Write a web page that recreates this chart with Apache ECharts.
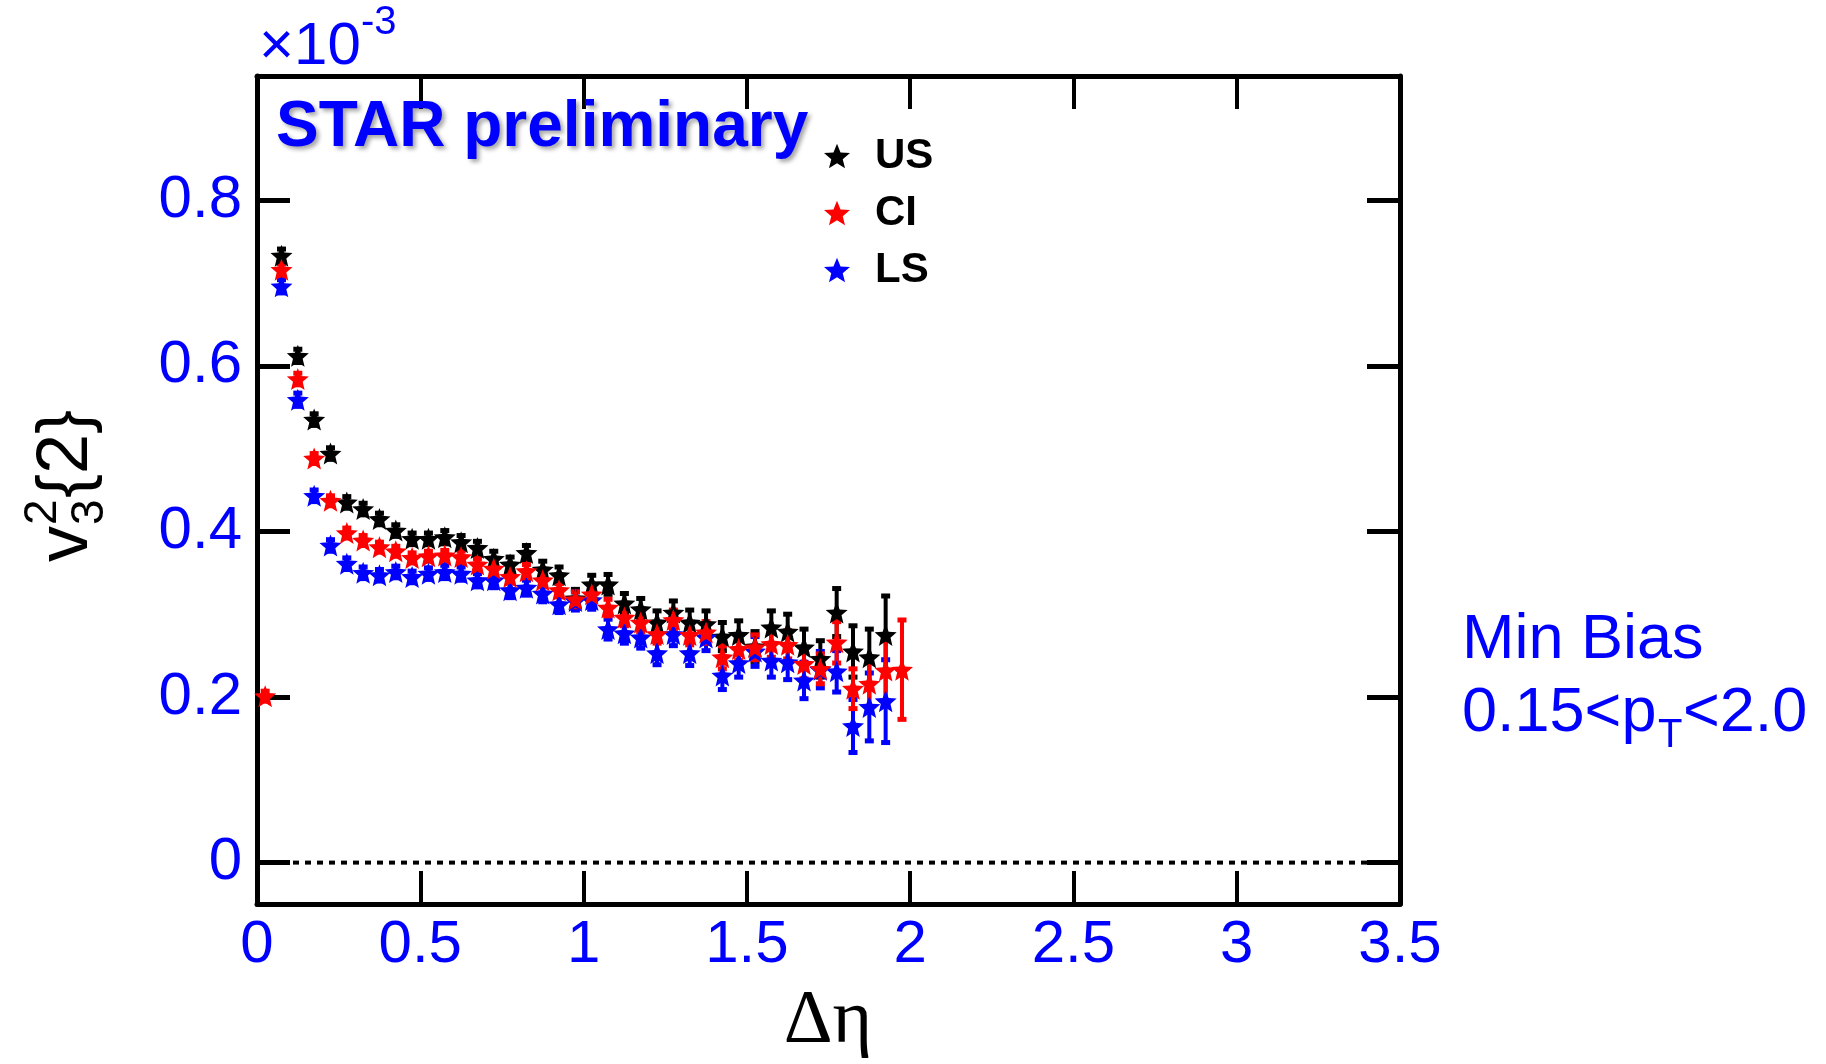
<!DOCTYPE html>
<html>
<head>
<meta charset="utf-8">
<title>v3^2{2} vs delta eta</title>
<script src="https://cdn.jsdelivr.net/npm/echarts@6/dist/echarts.min.js"></script>
<style>
  html, body { margin: 0; padding: 0; background: #fff; }
  #chart { width: 1826px; height: 1064px; }
</style>
</head>
<body>
<div id="chart"></div>
<script>
// Δη bin centres
const usEta = [0.075,0.125,0.175,0.225,0.275,0.325,0.375,0.425,0.475,0.525,0.575,0.625,0.675,0.725,0.775,0.825,0.875,0.925,0.975,
               1.025,1.075,1.125,1.175,1.225,1.275,1.325,1.375,1.425,1.475,1.525,1.575,1.625,1.675,1.725,1.775,1.825,1.875,1.925];
const ciEta = [0.025,0.075,0.125,0.175,0.225,0.275,0.325,0.375,0.425,0.475,0.525,0.575,0.625,0.675,0.725,0.775,0.825,0.875,0.925,0.975,
               1.025,1.075,1.125,1.175,1.225,1.275,1.325,1.375,1.425,1.475,1.525,1.575,1.625,1.675,1.725,1.775,1.825,1.875,1.925,1.975];
const lsEta = [0.075,0.125,0.175,0.225,0.275,0.325,0.375,0.425,0.475,0.525,0.575,0.625,0.675,0.725,0.775,0.825,0.875,0.925,0.975,
               1.025,1.075,1.125,1.175,1.225,1.275,1.325,1.375,1.425,1.475,1.525,1.575,1.625,1.675,1.725,1.775,1.825,1.875,1.925];

// v3^2{2} in units of 1e-3
const usV2 = [0.733,0.612,0.535,0.494,0.435,0.427,0.415,0.401,0.391,0.391,0.393,0.387,0.380,0.367,0.360,0.374,0.354,0.347,0.319,
              0.336,0.336,0.313,0.306,0.290,0.302,0.290,0.288,0.273,0.275,0.261,0.284,0.279,0.260,0.246,0.302,0.255,0.248,0.275];
const ciV2 = [0.201,0.716,0.584,0.488,0.437,0.398,0.389,0.381,0.376,0.368,0.370,0.371,0.369,0.360,0.355,0.345,0.352,0.341,0.329,0.318,
              0.324,0.308,0.296,0.290,0.276,0.293,0.275,0.278,0.248,0.258,0.260,0.264,0.263,0.240,0.234,0.266,0.210,0.216,0.232,0.233];
const lsV2 = [0.696,0.559,0.443,0.383,0.361,0.350,0.347,0.351,0.345,0.349,0.351,0.349,0.341,0.341,0.329,0.332,0.325,0.312,0.316,
              0.317,0.282,0.277,0.272,0.253,0.276,0.253,0.272,0.226,0.241,0.255,0.244,0.242,0.220,0.233,0.231,0.165,0.188,0.195];

// statistical errors (same units)
const usErr = [0.008,0.008,0.007,0.007,0.007,0.007,0.007,0.007,0.007,0.007,0.008,0.008,0.008,0.009,0.009,0.009,0.010,0.010,0.011,
               0.011,0.012,0.012,0.013,0.014,0.014,0.015,0.016,0.017,0.017,0.018,0.020,0.021,0.022,0.022,0.029,0.031,0.034,0.047];
const ciErr = [0.006,0.007,0.007,0.006,0.006,0.006,0.006,0.006,0.006,0.006,0.006,0.006,0.007,0.007,0.007,0.007,0.008,0.008,0.008,0.009,
               0.009,0.010,0.010,0.011,0.011,0.012,0.012,0.013,0.014,0.014,0.015,0.016,0.017,0.018,0.018,0.025,0.024,0.028,0.040,0.060];
const lsErr = [0.008,0.008,0.007,0.007,0.007,0.007,0.007,0.007,0.007,0.007,0.008,0.008,0.008,0.009,0.009,0.009,0.010,0.010,0.011,
               0.011,0.012,0.012,0.013,0.014,0.014,0.015,0.016,0.017,0.017,0.018,0.020,0.021,0.022,0.022,0.025,0.032,0.041,0.050];

const yTicks = [0, 0.2, 0.4, 0.6, 0.8];

const BLUE = '#0000ff';
const SANS = '"Liberation Sans", Arial, Helvetica, sans-serif';
const SERIF = '"Liberation Serif", "Times New Roman", serif';

// five-pointed star marker
function starPath() {
  const pts = [];
  for (let i = 0; i < 10; i++) {
    const a = -Math.PI / 2 + i * Math.PI / 5;
    const r = i % 2 === 0 ? 50 : 22;
    pts.push((50 + r * Math.cos(a)).toFixed(2) + ' ' + (50 + r * Math.sin(a)).toFixed(2));
  }
  return 'path://M' + pts.join(' L') + ' Z';
}
const STAR = starPath();

function points(xs, ys) { return xs.map((x, i) => [x, ys[i]]); }
function withErr(xs, ys, es) { return xs.map((x, i) => [x, ys[i], es[i]]); }

// vertical error bar with small end caps
function errBar(color) {
  return function (params, api) {
    const x = api.value(0), y = api.value(1), e = api.value(2);
    const top = api.coord([x, y + e]);
    const bot = api.coord([x, y - e]);
    const bw = 4, cw = 9, ch = 5;
    return {
      type: 'group',
      children: [
        { type: 'rect', shape: { x: top[0] - bw / 2, y: top[1], width: bw, height: bot[1] - top[1] }, style: { fill: color } },
        { type: 'rect', shape: { x: top[0] - cw / 2, y: top[1] - ch / 2, width: cw, height: ch }, style: { fill: color } },
        { type: 'rect', shape: { x: bot[0] - cw / 2, y: bot[1] - ch / 2, width: cw, height: ch }, style: { fill: color } }
      ]
    };
  };
}

function errSeries(name, color, data) {
  return {
    name: name, type: 'custom', renderItem: errBar(color), data: data,
    encode: { x: 0, y: 1 }, silent: true, z: 3
  };
}
function markSeries(name, color, data) {
  return {
    name: name, type: 'scatter', data: data, symbol: STAR, symbolSize: 22,
    itemStyle: { color: color, opacity: 1 }, z: 4, silent: true
  };
}

const chart = echarts.init(document.getElementById('chart'), null, { renderer: 'canvas' });

const axisBase = {
  type: 'value',
  axisLine: { show: true, onZero: false, lineStyle: { color: '#000', width: 5 } },
  splitLine: { show: false }
};

// y-axis title v_3^2{2}, laid out along a rotated baseline
const titleF = 72, subF = 46;
const yTitle = {
  type: 'group', x: 92, y: 562, rotation: Math.PI / 2,
  children: [
    { type: 'text', x: 0, y: -0.347 * titleF, style: { text: 'v', fontSize: titleF, fontFamily: SANS, fill: '#000', textVerticalAlign: 'middle' } },
    { type: 'text', x: 37, y: -0.46 * titleF - 0.347 * subF, style: { text: '2', fontSize: subF, fontFamily: SANS, fill: '#000', textVerticalAlign: 'middle' } },
    { type: 'text', x: 37, y: 0.2 * titleF - 0.347 * subF, style: { text: '3', fontSize: subF, fontFamily: SANS, fill: '#000', textVerticalAlign: 'middle' } },
    { type: 'text', x: 64, y: -0.347 * titleF, style: { text: '{2}', fontSize: titleF, fontFamily: SANS, fill: '#000', textVerticalAlign: 'middle' } }
  ]
};

const option = {
  animation: false,
  backgroundColor: '#fff',
  grid: { left: 257, right: 426, top: 76, bottom: 160, containLabel: false },
  xAxis: [
    Object.assign({}, axisBase, {
      position: 'bottom', min: 0, max: 3.5, interval: 0.5,
      axisTick: { show: true, inside: true, length: 33, lineStyle: { color: '#000', width: 4 } },
      axisLabel: { show: true, color: BLUE, fontSize: 60, fontFamily: SANS, margin: 11,
                   formatter: v => String(v) }
    }),
    Object.assign({}, axisBase, {
      position: 'top', min: 0, max: 3.5, interval: 0.5,
      axisTick: { show: true, inside: true, length: 33, lineStyle: { color: '#000', width: 4 } },
      axisLabel: { show: false }
    })
  ],
  yAxis: [
    Object.assign({}, axisBase, {
      position: 'left', min: -0.05, max: 0.95,
      axisTick: { show: true, inside: true, length: 33, customValues: yTicks, lineStyle: { color: '#000', width: 5 } },
      axisLabel: { show: true, color: BLUE, fontSize: 60, fontFamily: SANS, margin: 15, customValues: yTicks,
                   formatter: v => (v === 0 ? '0' : v.toFixed(1)) }
    }),
    Object.assign({}, axisBase, {
      position: 'right', min: -0.05, max: 0.95,
      axisTick: { show: true, inside: true, length: 33, customValues: yTicks, lineStyle: { color: '#000', width: 5 } },
      axisLabel: { show: false }
    })
  ],
  legend: {
    data: ['US', 'CI', 'LS'],
    orient: 'vertical', left: 819, top: 129,
    itemWidth: 26, itemHeight: 26, itemGap: 13,
    textStyle: { color: '#000', fontSize: 42, fontWeight: 'bold', fontFamily: SANS, lineHeight: 44, padding: [0, 0, 0, 20] },
    selectedMode: false
  },
  series: [
    {
      name: 'zero', type: 'line', data: [[0, 0], [3.5, 0]], symbol: 'none', silent: true, z: 2,
      lineStyle: { color: '#000', width: 4, type: [6, 6] }
    },
    errSeries('US err', '#000000', withErr(usEta, usV2, usErr)),
    markSeries('US', '#000000', points(usEta, usV2)),
    errSeries('LS err', BLUE, withErr(lsEta, lsV2, lsErr)),
    markSeries('LS', BLUE, points(lsEta, lsV2)),
    errSeries('CI err', '#ff0000', withErr(ciEta, ciV2, ciErr)),
    markSeries('CI', '#ff0000', points(ciEta, ciV2))
  ],
  graphic: [
    // exponent of the y scale
    { type: 'text', x: 259, y: 68 - 0.347 * 60, style: { text: '\u00d710', fontSize: 60, fontFamily: SANS, fill: BLUE, textVerticalAlign: 'middle' } },
    { type: 'text', x: 361, y: 37 - 0.347 * 40, style: { text: '-3', fontSize: 40, fontFamily: SANS, fill: BLUE, textVerticalAlign: 'middle' } },
    // experiment tag
    { type: 'text', x: 276, y: 151 - 0.347 * 64, z: 10,
      style: { text: 'STAR preliminary', fontSize: 64, fontWeight: 'bold', fontFamily: SANS, fill: BLUE, textVerticalAlign: 'middle',
               textShadowColor: 'rgba(0,0,0,0.35)', textShadowBlur: 4, textShadowOffsetX: 3, textShadowOffsetY: 3 } },
    // event selection note
    { type: 'text', x: 1462, y: 662 - 0.347 * 63, style: { text: 'Min Bias', fontSize: 63, fontFamily: SANS, fill: BLUE, textVerticalAlign: 'middle' } },
    { type: 'text', x: 1462, y: 735 - 0.347 * 63, style: { text: '0.15<p', fontSize: 63, fontFamily: SANS, fill: BLUE, textVerticalAlign: 'middle' } },
    { type: 'text', x: 1658, y: 750 - 0.347 * 40, style: { text: 'T', fontSize: 40, fontFamily: SANS, fill: BLUE, textVerticalAlign: 'middle' } },
    { type: 'text', x: 1683, y: 735 - 0.347 * 63, style: { text: '<2.0', fontSize: 63, fontFamily: SANS, fill: BLUE, textVerticalAlign: 'middle' } },
    // axis titles
    { type: 'text', x: 828, y: 1048 - 0.3375 * 76, style: { text: '\u0394\u03b7', fontSize: 76, fontFamily: SERIF, fill: '#000', textAlign: 'center', textVerticalAlign: 'middle' } },
    yTitle
  ]
};

chart.setOption(option);
</script>
</body>
</html>
